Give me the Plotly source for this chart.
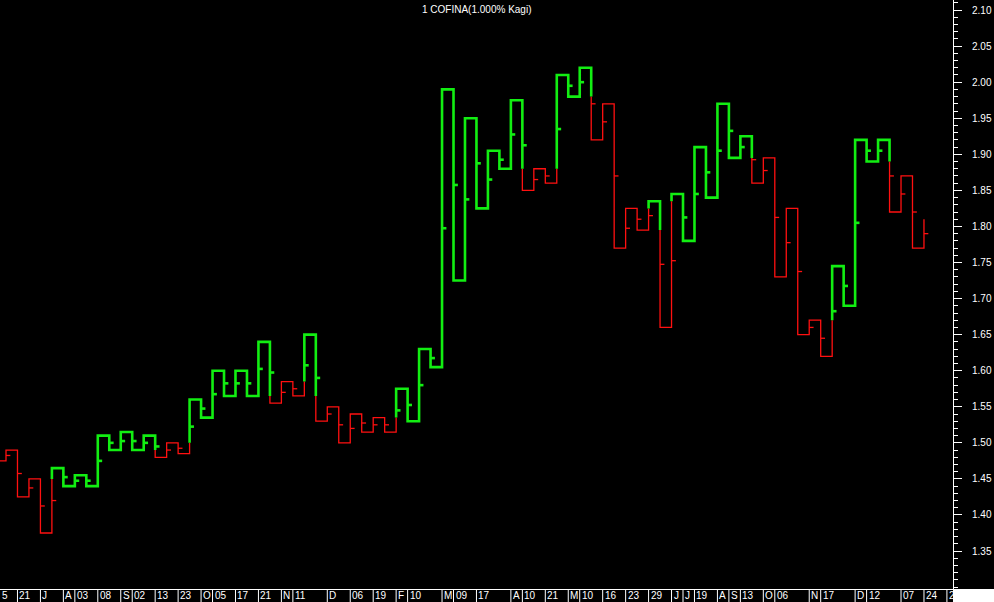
import plotly.graph_objects as go

# Kagi turning levels (price); vertical i runs from levels[i] to levels[i+1]
levels = [1.475, 1.49, 1.425, 1.45, 1.375, 1.465, 1.44, 1.455, 1.44, 1.51,
          1.49, 1.515, 1.49, 1.51, 1.48, 1.50, 1.485, 1.56, 1.535, 1.60,
          1.565, 1.60, 1.565, 1.64, 1.555, 1.585, 1.565, 1.65, 1.53, 1.55,
          1.50, 1.54, 1.515, 1.535, 1.515, 1.575, 1.53, 1.63, 1.605, 1.99,
          1.725, 1.95, 1.825, 1.905, 1.88, 1.975, 1.85, 1.88, 1.86, 2.01,
          1.98, 2.02, 1.92, 1.97, 1.77, 1.825, 1.795, 1.835, 1.66, 1.845,
          1.78, 1.91, 1.84, 1.97, 1.895, 1.925, 1.86, 1.895, 1.73, 1.825,
          1.65, 1.67, 1.62, 1.745, 1.69, 1.92, 1.89, 1.92, 1.82, 1.87,
          1.77, 1.81]

# bottom date labels: (line index, text)
date_idx = [1, 3, 5, 6, 8, 10, 11, 13, 15, 17, 18, 20, 22, 24, 25, 28, 30, 32,
            34, 35, 38, 39, 41, 44, 45, 47, 49, 50, 52, 54, 56, 58, 59, 60, 62,
            63, 64, 66, 67, 70, 71, 74, 75, 78, 80, 82]
date_txt = ["21", "J", "A", "03", "08", "S", "02", "13", "23", "O", "05", "17",
            "21", "N", "11", "D", "06", "19", "F", "10", "M", "09", "17", "A",
            "10", "21", "M", "10", "16", "23", "29", "J", "J", "19", "A", "S",
            "13", "O", "06", "N", "17", "D", "12", "07", "24", "2"]
first_label = "5"

y_major = [1.35, 1.40, 1.45, 1.50, 1.55, 1.60, 1.65, 1.70, 1.75, 1.80, 1.85,
           1.90, 1.95, 2.00, 2.05, 2.10]
title_text = "1 COFINA(1.000% Kagi)"

GREEN = "#12ee12"
RED = "#ff1010"
X_RANGE = [-0.523, 82.53]
Y_RANGE = [1.2974, 2.1139]
TICK_LEN = 0.38

# ---- build Kagi segments with yin/yang state ----
segs = []  # (x0, y0, x1, y1, color)
ticks = []  # (x, y, color)
state = "yin"
last_high = None
last_low = None
segs.append((-1, levels[0], 0, levels[0], state))
for i in range(len(levels) - 1):
    a, b = levels[i], levels[i + 1]
    if i > 0:
        segs.append((i - 1, a, i, a, state))
    split = None
    old = state
    if b > a:
        if state == "yin" and last_high is not None and b > last_high:
            split = max(a, last_high)
            state = "yang"
        last_high = b
    else:
        if state == "yang" and last_low is not None and b < last_low:
            split = min(a, last_low)
            state = "yin"
        last_low = b
    mid = (a + b) / 2
    if split is None:
        segs.append((i, a, i, b, state))
        ticks.append((i, mid, state))
    else:
        if split != a:
            segs.append((i, a, i, split, old))
        segs.append((i, split, i, b, state))
        if (b > a and mid < split) or (b < a and mid > split):
            ticks.append((i, mid, old))
        else:
            ticks.append((i, mid, state))

# merge consecutive segments of the same colour into polylines
lines = {"yang": ([], []), "yin": ([], [])}
prev_col = None
for (x0, y0, x1, y1, c) in segs:
    xs, ys = lines[c]
    if c != prev_col:
        if xs:
            xs.append(None)
            ys.append(None)
        xs.extend([x0, x1])
        ys.extend([y0, y1])
    else:
        xs.append(x1)
        ys.append(y1)
    prev_col = c

tk = {"yang": ([], []), "yin": ([], [])}
for (x, y, c) in ticks:
    xs, ys = tk[c]
    xs.extend([x, x + TICK_LEN, None])
    ys.extend([y, y, None])

fig = go.Figure()
fig.add_trace(go.Scatter(x=lines["yin"][0], y=lines["yin"][1], mode="lines",
                         line=dict(color=RED, width=1.3), hoverinfo="skip"))
fig.add_trace(go.Scatter(x=tk["yin"][0], y=tk["yin"][1], mode="lines",
                         line=dict(color=RED, width=1.3), hoverinfo="skip"))
fig.add_trace(go.Scatter(x=lines["yang"][0], y=lines["yang"][1], mode="lines",
                         line=dict(color=GREEN, width=2.6), hoverinfo="skip"))
fig.add_trace(go.Scatter(x=tk["yang"][0], y=tk["yang"][1], mode="lines",
                         line=dict(color=GREEN, width=2.6), hoverinfo="skip"))

FONT = "Arial, Liberation Sans, sans-serif"
PLOT_H = 589
B = 13
strip_y = -B / PLOT_H

shapes = []
annotations = []
# white corner box at bottom right
shapes.append(dict(type="rect", xref="paper", yref="paper", x0=1, x1=994 / 953,
                   y0=strip_y, y1=0, fillcolor="white", line=dict(width=0),
                   layer="above"))
for xi, t in zip(date_idx, date_txt):
    shapes.append(dict(type="line", xref="x", yref="paper", x0=xi, x1=xi,
                       y0=strip_y, y1=0, line=dict(color="white", width=1)))
    annotations.append(dict(xref="x", yref="paper", x=xi, y=strip_y / 2,
                            xanchor="left", yanchor="middle", xshift=0,
                            text=t, showarrow=False,
                            font=dict(family=FONT, size=10, color="white")))
annotations.append(dict(xref="paper", yref="paper", x=0, y=strip_y / 2,
                        xanchor="left", yanchor="middle", text=first_label,
                        showarrow=False,
                        font=dict(family=FONT, size=10, color="white")))
annotations.append(dict(xref="paper", yref="paper", x=0.5, y=1 - 9 / PLOT_H,
                        xanchor="center", yanchor="middle", text=title_text,
                        showarrow=False,
                        font=dict(family=FONT, size=10, color="white")))

minor_vals = []
for k in range(130, 212):
    v = round(k / 100, 2)
    if all(abs(v - m) > 1e-9 for m in y_major):
        minor_vals.append(v)

fig.update_layout(
    width=994, height=602,
    margin=dict(l=0, r=41, t=0, b=B),
    paper_bgcolor="black", plot_bgcolor="black",
    showlegend=False,
    shapes=shapes, annotations=annotations,
    xaxis=dict(range=X_RANGE, showgrid=False, zeroline=False,
               showticklabels=False, ticks="", showline=True,
               linecolor="white", linewidth=1, fixedrange=True),
    yaxis=dict(range=Y_RANGE, side="right", showgrid=False, zeroline=False,
               showline=True, linecolor="white", linewidth=1,
               tickmode="array", tickvals=y_major,
               ticktext=[f"{v:.2f}" for v in y_major],
               ticks="outside", ticklen=8, tickcolor="white", tickwidth=1,
               ticklabelstandoff=8,
               tickfont=dict(family=FONT, size=10, color="white"),
               minor=dict(tickmode="array", tickvals=minor_vals, ticks="outside",
                          ticklen=4, tickcolor="white", tickwidth=1),
               fixedrange=True),
)

fig.write_html(
    "out.html",
    config={"displayModeBar": False},
    post_script="document.body.style.margin='0';document.body.style.background='black';document.body.style.overflow='hidden';",
)
